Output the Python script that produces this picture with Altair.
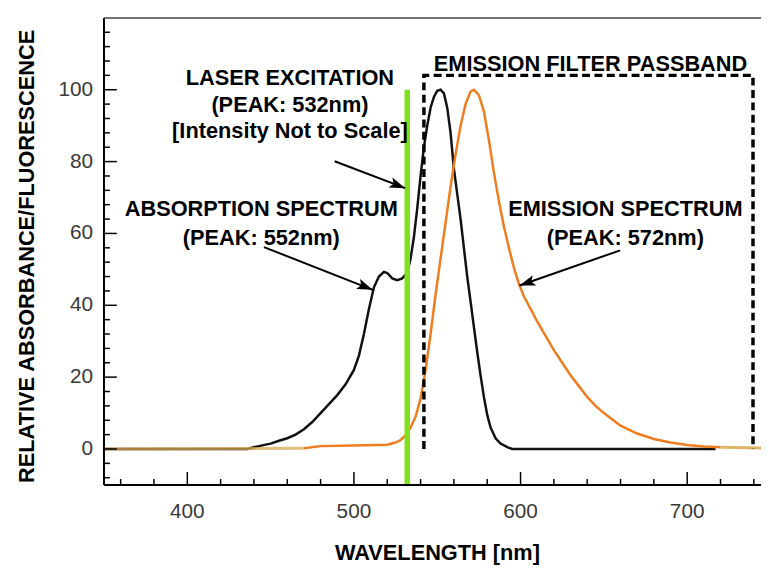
import math
import altair as alt
import pandas as pd

# ---------------- data ----------------
abs_nm = [350, 420, 436, 440, 445, 450, 455, 460, 465, 470, 475, 480, 485, 490, 495,
          500, 503, 506, 509, 512, 515, 518, 520, 523, 526, 529, 532, 534, 536, 538,
          540, 542, 544, 546, 548, 550, 552, 554, 556, 558, 560, 562, 564, 566, 568,
          570, 572, 574, 576, 578, 580, 582, 585, 588, 592, 595, 650, 717]
abs_val = [0, 0, 0, 0.5, 1, 1.5, 2.3, 3, 4, 5.5, 7.5, 10, 12.5, 15, 18,
           22, 26, 32, 39, 45, 48, 49.3, 49, 47.5, 47, 47.5, 49, 53, 59, 67,
           76, 84, 90, 95, 98, 99.7, 100, 99, 95, 88, 78, 71, 64, 56, 48,
           41, 34, 27, 20.5, 14.5, 9.5, 6, 3, 1.5, 0.5, 0, 0, 0]

em_nm = [350, 470, 480, 500, 520, 525, 528, 531, 534, 537, 540, 543, 546, 549, 552,
         555, 558, 561, 564, 567, 570, 572, 575, 578, 581, 584, 587, 590, 593, 596,
         599, 602, 606, 610, 615, 620, 625, 630, 635, 640, 645, 650, 660, 670, 680,
         690, 700, 710, 720, 745]
em_val = [0, 0.2, 0.8, 1, 1.2, 1.8, 2.5, 3.8, 6, 9, 14, 22, 32, 43, 53,
          63, 73, 82, 90, 96, 99.5, 100, 98.5, 94, 86, 77, 69, 62, 56, 50.5,
          46, 42.5, 39, 35.5, 31.5, 27.5, 24, 20.5, 17.5, 14.5, 12, 10, 6.5, 4.3, 2.8,
          1.8, 1.1, 0.7, 0.5, 0.3]

x_major = [400, 500, 600, 700]
x_minor = [360, 380, 420, 440, 460, 480, 520, 540, 560, 580, 620, 640, 660, 680, 720, 740]
y_major = [0, 20, 40, 60, 80, 100]
y_minor = [-8, -4, 4, 8, 12, 16, 24, 28, 32, 36, 44, 48, 52, 56, 64, 68, 72, 76,
           84, 88, 92, 96, 104, 108, 112, 116]

laser_nm = 532
laser_top = 100
passband = [542, 739.5]
passband_top = 104
em_tail_left = 470     # where the faint baseline of the emission trace turns orange
em_tail_right = 720

txt_laser = ["LASER EXCITATION", "(PEAK: 532nm)", "[Intensity Not to Scale]"]
txt_abs = ["ABSORPTION SPECTRUM", "(PEAK: 552nm)"]
txt_em = ["EMISSION SPECTRUM", "(PEAK: 572nm)"]
txt_filter = "EMISSION FILTER PASSBAND"
x_title = "WAVELENGTH [nm]"
y_title = "RELATIVE ABSORBANCE/FLUORESCENCE"

# ---------------- layout ----------------
W, H = 664, 472
XMIN, XMAX = 350, 744.3
YMIN, YMAX = -10, 120
px_nm = W / (XMAX - XMIN)
px_val = H / (YMAX - YMIN)
FONT = "Liberation Sans"

xs = alt.Scale(domain=[XMIN, XMAX], nice=False, zero=False)
ys = alt.Scale(domain=[YMIN, YMAX], nice=False, zero=False)


def X(f):
    return alt.X(f, scale=xs, axis=None)


def Y(f):
    return alt.Y(f, scale=ys, axis=None)


one = pd.DataFrame({"a": [0]})

df_abs = pd.DataFrame({"nm": abs_nm, "val": abs_val})
df_em = pd.DataFrame({"nm": em_nm, "val": em_val})
df_em_main = df_em[(df_em.nm >= em_tail_left) & (df_em.nm <= em_tail_right)]
df_em_l = df_em[df_em.nm <= em_tail_left]
df_em_r = df_em[df_em.nm >= em_tail_right]

abs_line = alt.Chart(df_abs).mark_line(color="#111111", strokeWidth=2.5).encode(
    x=X("nm:Q"), y=Y("val:Q"))
em_line = alt.Chart(df_em_main).mark_line(color="#ef7d1f", strokeWidth=2.5).encode(
    x=X("nm:Q"), y=Y("val:Q"))
em_tail_l = alt.Chart(df_em_l).mark_line(color="#d9a84e", strokeWidth=3, opacity=0.75).encode(
    x=X("nm:Q"), y=Y("val:Q"))
em_tail_r = alt.Chart(df_em_r).mark_line(color="#d9a84e", strokeWidth=3, opacity=0.85).encode(
    x=X("nm:Q"), y=Y("val:Q"))

laser = alt.Chart(one).mark_rule(color="#7fe11d", strokeWidth=5.5).encode(
    x=alt.XDatum(laser_nm, scale=xs, axis=None),
    y=alt.YDatum(laser_top, scale=ys, axis=None),
    y2=alt.value(H),
)

df_box = pd.DataFrame({"nm": [passband[0], passband[0], passband[1], passband[1]],
                       "val": [0, passband_top, passband_top, 0],
                       "o": [0, 1, 2, 3]})
box = alt.Chart(df_box).mark_line(color="black", strokeWidth=3.5, strokeDash=[8, 4.5]).encode(
    x=X("nm:Q"), y=Y("val:Q"), order="o:Q")

HEAD = "M0,0 L0.55,1.6 L0,1.25 L-0.55,1.6 Z"


def arrow(x0, y0, x1, y1):
    dx = (x1 - x0) * px_nm
    dy = -(y1 - y0) * px_val
    ang = math.degrees(math.atan2(dx, -dy)) % 360
    line = alt.Chart(one).mark_rule(color="black", strokeWidth=2).encode(
        x=alt.XDatum(x0, scale=xs, axis=None), y=alt.YDatum(y0, scale=ys, axis=None),
        x2=alt.X2Datum(x1), y2=alt.Y2Datum(y1),
    )
    head = alt.Chart(one).mark_point(shape=HEAD, filled=True, size=400, angle=ang,
                                     color="black", opacity=1, strokeWidth=0).encode(
        x=alt.XDatum(x1, scale=xs, axis=None), y=alt.YDatum(y1, scale=ys, axis=None),
    )
    return [line, head]


def label(lines, x, y, lh):
    return alt.Chart(one).mark_text(text=lines, align="center", baseline="top",
                                    font=FONT, fontSize=22, fontWeight="bold",
                                    lineHeight=lh, color="black").encode(
        x=alt.XDatum(x, scale=xs, axis=None), y=alt.YDatum(y, scale=ys, axis=None),
    )


arrows = (arrow(446.0, 56.2, 511.3, 44.3)
          + arrow(659.8, 55.3, 599.4, 45.5)
          + arrow(488.4, 80.1, 530.8, 72.6))

texts = [
    label(txt_laser, 461.6, 106.0, 27),
    label(txt_abs, 444.4, 69.5, 29),
    label(txt_em, 662.9, 69.5, 29),
    label([txt_filter], 642.0, 109.8, 27),
]

# ---------------- hand-drawn axes (inward ticks) ----------------
df_xmaj = pd.DataFrame({"nm": x_major})
df_ymaj = pd.DataFrame({"val": y_major})
xt_major = alt.Chart(df_xmaj).mark_rule(color="black", strokeWidth=1.5).encode(
    x=X("nm:Q"), y=alt.value(H), y2=alt.value(H - 13))
xt_minor = alt.Chart(pd.DataFrame({"nm": x_minor})).mark_rule(color="black", strokeWidth=1.5).encode(
    x=X("nm:Q"), y=alt.value(H), y2=alt.value(H - 6))
yt_major = alt.Chart(df_ymaj).mark_rule(color="black", strokeWidth=1.5).encode(
    y=Y("val:Q"), x=alt.value(0), x2=alt.value(13))
yt_minor = alt.Chart(pd.DataFrame({"val": y_minor})).mark_rule(color="black", strokeWidth=1.5).encode(
    y=Y("val:Q"), x=alt.value(0), x2=alt.value(6))

x_labels = alt.Chart(df_xmaj).mark_text(font=FONT, fontSize=21, color="#3a3a3a",
                                        baseline="top", align="center").encode(
    x=X("nm:Q"), y=alt.value(H + 16), text="nm:Q")
y_labels = alt.Chart(df_ymaj).mark_text(font=FONT, fontSize=21, color="#3a3a3a",
                                        baseline="middle", align="right").encode(
    y=Y("val:Q"), x=alt.value(-11), text="val:Q")

left_axis = alt.Chart(one).mark_rule(color="black", strokeWidth=2).encode(
    x=alt.value(0), y=alt.value(0), y2=alt.value(H))
bottom_axis = alt.Chart(one).mark_rule(color="black", strokeWidth=2).encode(
    x=alt.value(0), x2=alt.value(W), y=alt.value(H))
top_border = alt.Chart(one).mark_rule(color="#444444", strokeWidth=1.5).encode(
    x=alt.value(0), x2=alt.value(W), y=alt.value(0))

x_title_mark = alt.Chart(one).mark_text(text=x_title, font=FONT, fontSize=22, fontWeight="bold",
                                        color="black", align="center", baseline="middle").encode(
    x=alt.value(337), y=alt.value(H + 69))
y_title_mark = alt.Chart(one).mark_text(text=y_title, font=FONT, fontSize=22, fontWeight="bold",
                                        color="black", align="center", baseline="middle",
                                        angle=270).encode(
    x=alt.value(-78), y=alt.value(241))

chart = alt.layer(
    abs_line, em_tail_l, em_line, em_tail_r, laser, box, *arrows, *texts,
    xt_major, xt_minor, yt_major, yt_minor, x_labels, y_labels,
    left_axis, bottom_axis, top_border, x_title_mark, y_title_mark,
).properties(
    width=W, height=H,
    padding={"left": 97, "top": 7, "right": 0, "bottom": 84},
    autosize=alt.AutoSizeParams(type="none"),
    background="white",
).configure_view(stroke=None)

chart.save("out.html", embed_options={"renderer": "svg", "actions": False})
